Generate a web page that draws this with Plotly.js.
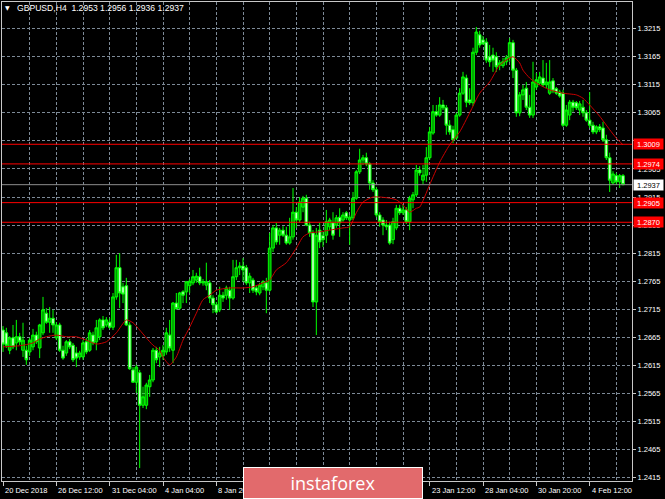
<!DOCTYPE html>
<html><head><meta charset="utf-8">
<script src="https://cdn.plot.ly/plotly-3.0.1.min.js"></script>
<style>html,body{margin:0;padding:0;background:#000;}#chart{width:665px;height:499px;}</style>
</head><body><div id="chart"></div>
<script>
const symbolName = 'GBPUSD,H4';
const openP = [1.2678,1.2673,1.2642,1.2664,1.2655,1.2666,1.2642,1.2642,1.2639,1.2648,1.2669,1.2646,1.2673,1.2708,1.2692,1.2699,1.2664,1.2687,1.2642,1.2637,1.2657,1.2651,1.2637,1.2630,1.2630,1.2657,1.2642,1.2669,1.2657,1.2666,1.2696,1.2687,1.2692,1.2683,1.2737,1.2789,1.2755,1.2757,1.2687,1.2607,1.2585,1.2602,1.2544,1.2544,1.2577,1.2589,1.2642,1.2630,1.2632,1.2639,1.2669,1.2642,1.2726,1.2717,1.2746,1.2746,1.2757,1.2762,1.2767,1.2773,1.2762,1.2758,1.2762,1.2735,1.2723,1.2714,1.2740,1.2740,1.2749,1.2735,1.2773,1.2789,1.2792,1.2789,1.2762,1.2767,1.2753,1.2744,1.2755,1.2762,1.2749,1.2824,1.2860,1.2847,1.2856,1.2847,1.2833,1.2844,1.2888,1.2874,1.2897,1.2913,1.2865,1.2851,1.2728,1.2856,1.2846,1.2847,1.2862,1.2869,1.2865,1.2879,1.2874,1.2887,1.2874,1.2878,1.2913,1.2960,1.2981,1.2985,1.2974,1.2940,1.2928,1.2883,1.2874,1.2865,1.2865,1.2839,1.2860,1.2895,1.2887,1.2892,1.2871,1.2910,1.2919,1.2963,1.2945,1.2954,1.2985,1.3029,1.3067,1.3061,1.3079,1.3074,1.3043,1.3035,1.3020,1.3061,1.3100,1.3127,1.3088,1.3083,1.3173,1.3204,1.3195,1.3191,1.3165,1.3168,1.3165,1.3150,1.3149,1.3156,1.3163,1.3190,1.3141,1.3065,1.3097,1.3109,1.3075,1.3061,1.3111,1.3118,1.3127,1.3115,1.3100,1.3122,1.3108,1.3102,1.3100,1.3043,1.3061,1.3084,1.3083,1.3070,1.3075,1.3065,1.3052,1.3043,1.3031,1.3040,1.3038,1.3017,1.2985,1.2940,1.2953,1.2942,1.2953];
const highP = [1.2685,1.2682,1.2667,1.2687,1.2696,1.2673,1.2691,1.2650,1.2664,1.2680,1.2675,1.2689,1.2737,1.2717,1.2719,1.2714,1.2692,1.2691,1.2650,1.2660,1.2662,1.2655,1.2648,1.2641,1.2660,1.2664,1.2678,1.2675,1.2696,1.2699,1.2703,1.2701,1.2699,1.2744,1.2812,1.2815,1.2762,1.2771,1.2692,1.2612,1.2616,1.2607,1.2577,1.2584,1.2598,1.2646,1.2648,1.2648,1.2651,1.2682,1.2696,1.2728,1.2744,1.2746,1.2749,1.2765,1.2769,1.2785,1.2780,1.2789,1.2769,1.2798,1.2767,1.2740,1.2728,1.2755,1.2746,1.2757,1.2755,1.2803,1.2803,1.2799,1.2806,1.2794,1.2780,1.2771,1.2758,1.2762,1.2767,1.2771,1.2851,1.2865,1.2869,1.2860,1.2863,1.2862,1.2878,1.2931,1.2897,1.2915,1.2917,1.2919,1.2871,1.2856,1.2860,1.2869,1.2853,1.2892,1.2878,1.2888,1.2883,1.2895,1.2888,1.2890,1.2883,1.2924,1.2963,1.3001,1.2990,1.2994,1.2977,1.2945,1.2933,1.2888,1.2879,1.2874,1.2871,1.2878,1.2901,1.2901,1.2901,1.2897,1.2917,1.2924,1.2972,1.2970,1.2972,1.3004,1.3040,1.3079,1.3079,1.3093,1.3088,1.3079,1.3052,1.3042,1.3065,1.3109,1.3138,1.3133,1.3109,1.3181,1.3218,1.3211,1.3202,1.3198,1.3186,1.3181,1.3173,1.3159,1.3163,1.3168,1.3198,1.3195,1.3145,1.3102,1.3115,1.3120,1.3097,1.3156,1.3136,1.3138,1.3159,1.3154,1.3159,1.3127,1.3111,1.3106,1.3106,1.3079,1.3088,1.3088,1.3086,1.3086,1.3088,1.3070,1.3102,1.3049,1.3043,1.3045,1.3049,1.3026,1.2994,1.2961,1.2958,1.2956,1.2956];
const lowP = [1.2639,1.2646,1.2635,1.2644,1.2642,1.2651,1.2630,1.2616,1.2632,1.2642,1.2653,1.2628,1.2669,1.2689,1.2673,1.2673,1.2660,1.2639,1.2625,1.2632,1.2644,1.2621,1.2612,1.2625,1.2625,1.2635,1.2639,1.2651,1.2642,1.2660,1.2678,1.2683,1.2680,1.2678,1.2732,1.2717,1.2726,1.2685,1.2607,1.2584,1.2566,1.2432,1.2539,1.2537,1.2559,1.2585,1.2619,1.2612,1.2625,1.2634,1.2639,1.2619,1.2714,1.2714,1.2726,1.2726,1.2744,1.2758,1.2762,1.2758,1.2757,1.2749,1.2726,1.2708,1.2708,1.2710,1.2728,1.2732,1.2714,1.2732,1.2767,1.2776,1.2764,1.2758,1.2744,1.2744,1.2740,1.2740,1.2749,1.2708,1.2746,1.2817,1.2830,1.2830,1.2844,1.2830,1.2830,1.2839,1.2860,1.2869,1.2888,1.2863,1.2844,1.2719,1.2669,1.2824,1.2826,1.2833,1.2856,1.2839,1.2860,1.2844,1.2871,1.2874,1.2830,1.2874,1.2910,1.2956,1.2972,1.2970,1.2928,1.2924,1.2879,1.2862,1.2847,1.2856,1.2830,1.2831,1.2856,1.2883,1.2883,1.2867,1.2856,1.2895,1.2915,1.2953,1.2938,1.2942,1.2981,1.3026,1.3058,1.3058,1.3070,1.3026,1.3026,1.3011,1.3017,1.3058,1.3097,1.3075,1.3079,1.3077,1.3168,1.3181,1.3186,1.3154,1.3147,1.3138,1.3138,1.3141,1.3145,1.3150,1.3156,1.3127,1.3058,1.3059,1.3088,1.3070,1.3056,1.3056,1.3106,1.3115,1.3111,1.3109,1.3097,1.3100,1.3097,1.3092,1.3040,1.3040,1.3052,1.3067,1.3070,1.3061,1.3058,1.3049,1.3038,1.3027,1.3027,1.3031,1.3013,1.2981,1.2924,1.2937,1.2937,1.2931,1.2936];
const closeP = [1.2653,1.2651,1.2664,1.2648,1.2666,1.2657,1.2660,1.2625,1.2660,1.2669,1.2657,1.2687,1.2714,1.2692,1.2699,1.2687,1.2687,1.2642,1.2628,1.2657,1.2648,1.2625,1.2628,1.2637,1.2655,1.2639,1.2673,1.2655,1.2682,1.2696,1.2682,1.2696,1.2683,1.2737,1.2789,1.2744,1.2742,1.2687,1.2609,1.2585,1.2612,1.2544,1.2559,1.2580,1.2589,1.2642,1.2625,1.2637,1.2642,1.2673,1.2646,1.2726,1.2716,1.2744,1.2740,1.2764,1.2765,1.2773,1.2774,1.2762,1.2764,1.2764,1.2735,1.2723,1.2710,1.2740,1.2735,1.2753,1.2735,1.2773,1.2789,1.2792,1.2785,1.2762,1.2774,1.2749,1.2746,1.2758,1.2764,1.2749,1.2824,1.2860,1.2835,1.2856,1.2847,1.2833,1.2844,1.2888,1.2874,1.2906,1.2913,1.2865,1.2851,1.2728,1.2847,1.2835,1.2839,1.2871,1.2874,1.2847,1.2878,1.2869,1.2883,1.2878,1.2879,1.2913,1.2960,1.2981,1.2985,1.2974,1.2940,1.2928,1.2883,1.2871,1.2865,1.2862,1.2833,1.2871,1.2895,1.2887,1.2892,1.2871,1.2913,1.2919,1.2963,1.2958,1.2954,1.2985,1.3031,1.3067,1.3061,1.3079,1.3074,1.3043,1.3031,1.3017,1.3061,1.3100,1.3129,1.3084,1.3083,1.3173,1.3209,1.3186,1.3188,1.3159,1.3156,1.3159,1.3147,1.3154,1.3156,1.3163,1.3190,1.3141,1.3065,1.3097,1.3106,1.3075,1.3061,1.3120,1.3124,1.3129,1.3115,1.3120,1.3120,1.3104,1.3100,1.3095,1.3043,1.3070,1.3084,1.3075,1.3074,1.3081,1.3065,1.3052,1.3043,1.3031,1.3040,1.3035,1.3017,1.2985,1.2945,1.2956,1.2942,1.2953,1.2937];
const maBars = [0,5,9,11,13,16,19,22,25,28,31,34,37,39,41,43,45,47,48,50,52,54,56,58,60,62,64,68,72,75,78,80,82,85,88,90,92,95,98,102,104,106,108,111,113,116,118,120,122,124,125,128,131,134,137,140,143,146,149,151,153,155,156,158,160,164,168,172,174,176,179,182,184,186];
const maValues = [1.2648,1.2650,1.2655,1.2662,1.2666,1.2669,1.2666,1.2666,1.2660,1.2653,1.2657,1.2673,1.2696,1.2691,1.2678,1.2664,1.2651,1.2642,1.2630,1.2616,1.2630,1.2660,1.2683,1.2708,1.2732,1.2740,1.2749,1.2753,1.2753,1.2755,1.2762,1.2767,1.2785,1.2798,1.2824,1.2844,1.2851,1.2853,1.2856,1.2860,1.2862,1.2887,1.2906,1.2915,1.2915,1.2913,1.2910,1.2901,1.2888,1.2895,1.2897,1.2937,1.2977,1.3008,1.3031,1.3065,1.3100,1.3120,1.3150,1.3159,1.3165,1.3154,1.3141,1.3127,1.3118,1.3106,1.3100,1.3097,1.3091,1.3079,1.3059,1.3035,1.3020,1.3008];
const levels = [1.3009, 1.2974, 1.2905, 1.2870];
const priceTicks = [1.2415,1.2465,1.2515,1.2565,1.2615,1.2665,1.2715,1.2765,1.2815,1.2865,1.2915,1.2965,1.3015,1.3065,1.3115,1.3165,1.3215];
const timeTickBars = [0,16,32,48,64,80,96,112,128,144,160,176];
const timeTickLabels = ['20 Dec 2018','26 Dec 12:00','31 Dec 04:00','4 Jan 04:00','8 Jan 20:00','11 Jan 12:00','16 Jan 04:00','18 Jan 20:00','23 Jan 12:00','28 Jan 04:00','30 Jan 20:00','4 Feb 12:00'];
const watermarkText = 'instaforex';

const FONT = 'Liberation Sans, Arial, sans-serif';
const GRID = '#7d8a97';
const bars = openP.map((_, i) => i);
const last = openP.length - 1;
const XMIN = -0.3, XMAX = 188.7, PLOT_L = 2, PLOT_W = 630;
const WM_L = 243, WM_R = 423;
const barPx = b => PLOT_L + (b - XMIN) / (XMAX - XMIN) * PLOT_W;

const candles = {
  type: 'candlestick', x: bars, open: openP, high: highP, low: lowP, close: closeP,
  increasing: {line: {color: '#00ff00', width: 1}, fillcolor: '#009a00'},
  decreasing: {line: {color: '#00ff00', width: 1}, fillcolor: '#c8ffc8'},
  whiskerwidth: 0, hoverinfo: 'none', showlegend: false
};
const ma = {
  type: 'scatter', mode: 'lines', x: maBars, y: maValues,
  line: {color: '#c80000', width: 1, shape: 'spline', smoothing: 0.6},
  hoverinfo: 'none', showlegend: false
};

const shapes = levels.map(v => ({
  type: 'line', xref: 'paper', x0: 0, x1: 1, yref: 'y', y0: v, y1: v,
  line: {color: '#ff0000', width: 1}, layer: 'above'
}));
shapes.push({type: 'line', xref: 'paper', x0: 0, x1: 1, yref: 'y', y0: closeP[last], y1: closeP[last],
  line: {color: '#8e8e8e', width: 1}, layer: 'above'});

const annotations = [];
timeTickBars.forEach((b, k) => {
  const px = barPx(b);
  // labels lying completely under the watermark badge are not visible in the chart
  if (px >= WM_L && px + 45 <= WM_R) return;
  annotations.push({
    xref: 'x', x: b, yref: 'paper', y: 0, xanchor: 'left', yanchor: 'top', xshift: 0, yshift: -3,
    text: timeTickLabels[k], showarrow: false, font: {family: FONT, size: 7.5, color: '#ffffff'}
  });
});
levels.forEach(v => annotations.push({
  xref: 'paper', x: 1, yref: 'y', y: v, xanchor: 'left', yanchor: 'middle', xshift: 1,
  text: v.toFixed(4), showarrow: false, bgcolor: '#ff0000', borderpad: 1, width: 27, height: 8,
  font: {family: FONT, size: 7.5, color: '#ffffff'}
}));
annotations.push({
  xref: 'paper', x: 1, yref: 'y', y: closeP[last], xanchor: 'left', yanchor: 'middle', xshift: 1,
  text: closeP[last].toFixed(4), showarrow: false, bgcolor: '#ffffff', borderpad: 1, width: 27, height: 8,
  font: {family: FONT, size: 7.5, color: '#000000'}
});
annotations.push({
  xref: 'paper', x: 0.008, yref: 'paper', y: 0.9875, xanchor: 'center', yanchor: 'middle',
  text: '▼', showarrow: false, font: {family: 'DejaVu Sans', size: 6, color: '#ffffff'}
});
annotations.push({
  xref: 'paper', x: 0.0206, yref: 'paper', y: 0.9875, xanchor: 'left', yanchor: 'middle',
  text: symbolName + '  ' + [openP[last], highP[last], lowP[last], closeP[last]].map(v => v.toFixed(4)).join(' '),
  showarrow: false, font: {family: FONT, size: 8.6, color: '#ffffff'}
});
annotations.push({
  xref: 'paper', x: ((WM_L + WM_R) / 2 - PLOT_L) / PLOT_W, yref: 'paper', y: -2 / 479, xanchor: 'center', yanchor: 'middle',
  text: watermarkText, showarrow: false, bgcolor: '#e26a6c', bordercolor: '#ffffff', borderwidth: 1,
  borderpad: 0, width: WM_R - WM_L - 2, height: 30, font: {family: 'Open Sans', size: 18, color: '#ffffff'}
});

const layout = {
  width: 665, height: 499,
  margin: {l: 2, r: 33, t: 2, b: 18, pad: 0},
  paper_bgcolor: '#000000', plot_bgcolor: '#000000',
  showlegend: false,
  boxgap: 0.2, boxgroupgap: 0,
  xaxis: {
    range: [XMIN, XMAX], rangeslider: {visible: false},
    tickmode: 'array', tickvals: timeTickBars, showticklabels: false,
    ticks: 'outside', ticklen: 4, tickcolor: '#c8c8c8', tickwidth: 1,
    showgrid: true, gridcolor: GRID, griddash: '3px,2px', gridwidth: 1,
    minor: {tickmode: 'linear', tick0: 0, dtick: 8, showgrid: true, gridcolor: GRID, griddash: '3px,2px', ticks: ''},
    showline: true, linecolor: '#c8c8c8', linewidth: 1, mirror: true, zeroline: false, fixedrange: true
  },
  yaxis: {
    range: [1.2409, 1.32625], side: 'right',
    tickmode: 'array', tickvals: priceTicks, ticktext: priceTicks.map(v => v.toFixed(4)),
    ticks: 'outside', ticklen: 3, tickcolor: '#c8c8c8',
    tickfont: {family: FONT, size: 7.5, color: '#ffffff'},
    showgrid: true, gridcolor: GRID, griddash: '3px,2px', gridwidth: 1,
    showline: true, linecolor: '#c8c8c8', linewidth: 1, mirror: true, zeroline: false, fixedrange: true
  },
  shapes: shapes,
  annotations: annotations
};

Plotly.newPlot('chart', [candles, ma], layout, {staticPlot: true, displayModeBar: false});
</script>
</body></html>
